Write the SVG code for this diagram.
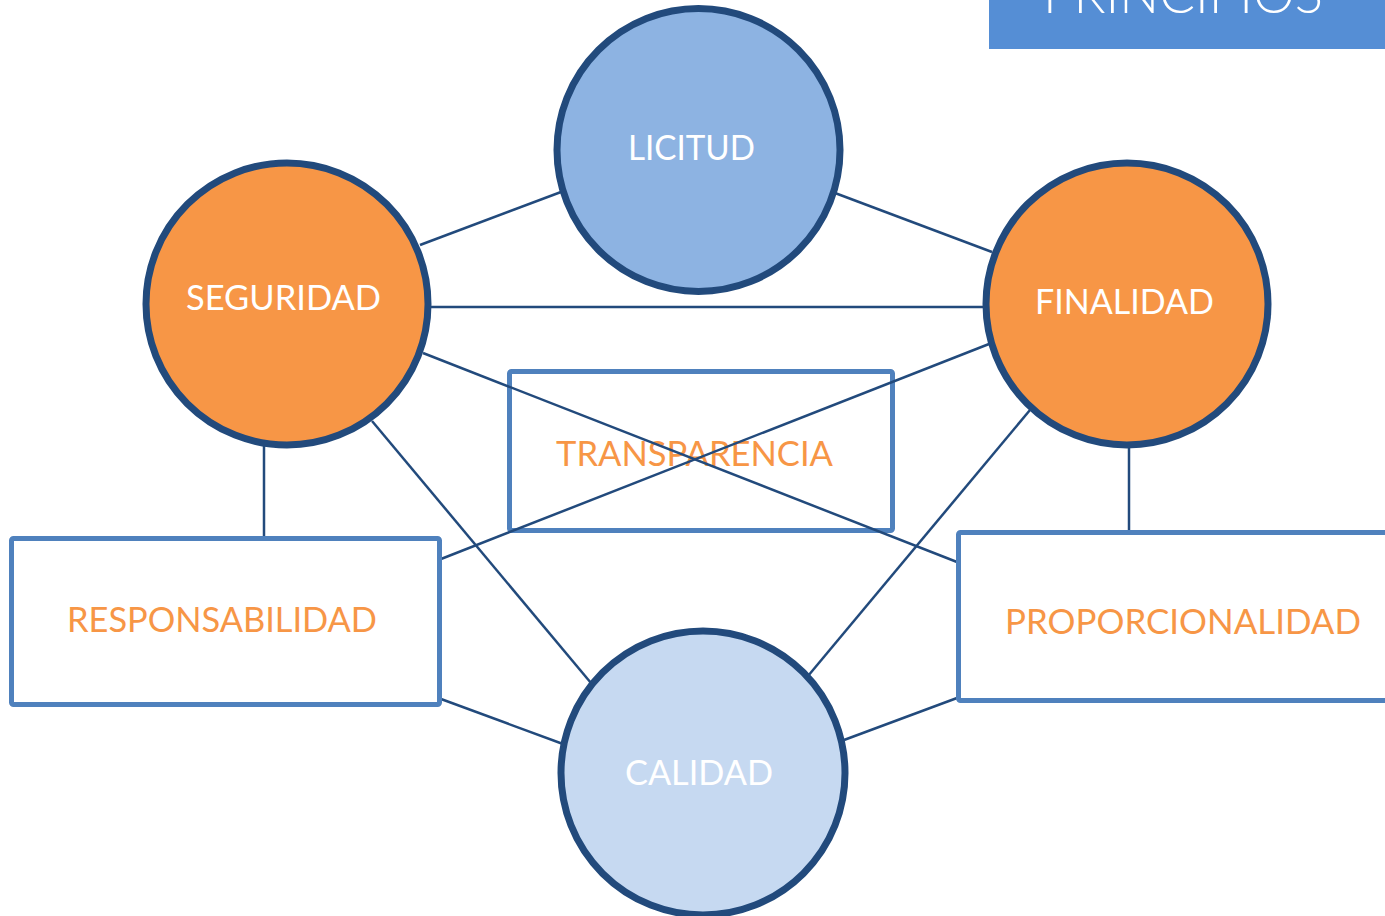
<svg xmlns="http://www.w3.org/2000/svg" width="1385" height="916" viewBox="0 0 1385 916">
<style>
.circ{stroke:#224A7C;stroke-width:7}
.box{stroke:#4F81BD;stroke-width:5;fill:#FFFFFF}
.conn line{stroke:#224A7C;stroke-width:2.5}
.wt{fill:#FFFFFF;font-family:Lato,"Open Sans",sans-serif;font-size:34px;text-anchor:middle}
.ot{fill:#F79646;font-family:Lato,"Open Sans",sans-serif;font-size:34px;text-anchor:middle}
</style>
<rect x="0" y="0" width="1385" height="916" fill="#FFFFFF"/>
<g id="banner">
<rect x="989" y="-2" width="398" height="51" fill="#558ED5"/>
<text x="1183" y="13" fill="#FFFFFF" font-family="Lato,'Open Sans',sans-serif" font-weight="300" font-size="54" text-anchor="middle" textLength="280" lengthAdjust="spacingAndGlyphs">PRINCIPIOS</text>
</g>
<g id="transparencia">
<rect x="509.5" y="371.5" width="383" height="159" rx="2" fill="none" stroke="#4F81BD" stroke-width="5"/>
<text class="ot" x="694.5" y="466" textLength="277" lengthAdjust="spacingAndGlyphs">TRANSPARENCIA</text>
</g>
<g id="connectors" class="conn">
<line x1="420" y1="245" x2="561" y2="192"/>
<line x1="835" y1="193" x2="992" y2="252"/>
<line x1="431" y1="307" x2="984" y2="307"/>
<line x1="423" y1="353" x2="957" y2="562"/>
<line x1="989" y1="344" x2="441" y2="559"/>
<line x1="372" y1="421" x2="591" y2="683"/>
<line x1="1030" y1="410" x2="808" y2="676"/>
<line x1="264" y1="446" x2="264" y2="537"/>
<line x1="1129" y1="447" x2="1129" y2="531"/>
<line x1="441" y1="699" x2="563" y2="744"/>
<line x1="957" y1="698" x2="844" y2="740"/>
</g>
<g id="licitud">
<circle class="circ" cx="698.5" cy="150" r="141.5" fill="#8DB3E2"/>
<text class="wt" x="691.5" y="160" textLength="127" lengthAdjust="spacingAndGlyphs">LICITUD</text>
</g>
<g id="seguridad">
<circle class="circ" cx="287" cy="304" r="141" fill="#F79646"/>
<text class="wt" x="283.5" y="310" textLength="195" lengthAdjust="spacingAndGlyphs">SEGURIDAD</text>
</g>
<g id="finalidad">
<circle class="circ" cx="1127" cy="304" r="141" fill="#F79646"/>
<text class="wt" x="1124.5" y="314" textLength="179" lengthAdjust="spacingAndGlyphs">FINALIDAD</text>
</g>
<g id="calidad">
<circle class="circ" cx="703" cy="773" r="142" fill="#C6D9F1"/>
<text class="wt" x="699" y="785" textLength="148" lengthAdjust="spacingAndGlyphs">CALIDAD</text>
</g>
<g id="responsabilidad">
<rect class="box" x="11.5" y="538.5" width="428" height="166" rx="2"/>
<text class="ot" x="222" y="632" textLength="310" lengthAdjust="spacingAndGlyphs">RESPONSABILIDAD</text>
</g>
<g id="proporcionalidad">
<rect class="box" x="958.5" y="532.5" width="440" height="168" rx="2"/>
<text class="ot" x="1183" y="634" textLength="356" lengthAdjust="spacingAndGlyphs">PROPORCIONALIDAD</text>
</g>
</svg>
